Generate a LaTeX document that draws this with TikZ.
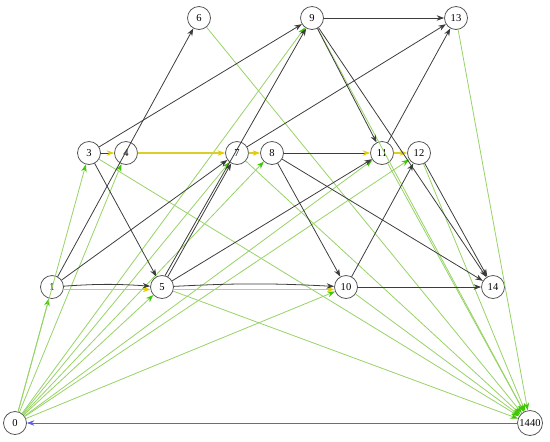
\documentclass[tikz,border=0pt]{standalone}
\usepackage{fontspec}
\setmainfont{Liberation Serif}
\usepackage{tikz}
\usetikzlibrary{arrows.meta}
\usepackage{xcolor}
\definecolor{nodeline}{RGB}{85,85,85}
\definecolor{depline}{RGB}{60,60,60}
\definecolor{srcline}{RGB}{150,210,100}
\definecolor{srctip}{RGB}{60,200,0}
\definecolor{critline}{RGB}{220,205,40}
\definecolor{crittip}{RGB}{230,205,0}
\definecolor{backline}{RGB}{95,95,225}

\begin{document}
\begin{tikzpicture}[>={Stealth[length=1.5mm,width=1.1mm]},font=\fontsize{6}{7}\selectfont,line cap=round,
  job/.style={circle,draw=nodeline,line width=0.45pt,minimum size=0.46cm,inner sep=0pt},
  dep/.style={->,draw=depline,line width=0.45pt},
  depcrit/.style={draw=depline,line width=0.45pt,-{Stealth[length=1.5mm,width=1.1mm,color=crittip]}},
  src/.style={draw=srcline,line width=0.45pt,-{Stealth[length=1.5mm,width=1.1mm,color=srctip]}},
  crit/.style={draw=critline,line width=0.6pt,-{Stealth[length=1.5mm,width=1.1mm,color=crittip]}},
  back/.style={->,draw=backline,line width=0.5pt,>={Stealth[length=1.5mm,width=1.1mm,color=backline]}}]
\useasboundingbox (0,0) rectangle (11,8.82);
\node[job] (n0) at (0.30,0.36) {0};
\node[job,minimum size=0.5cm] (n1440) at (10.60,0.36) {1440};
\node[job] (n1) at (1.04,3.08) {1};
\node[job] (n5) at (3.24,3.08) {5};
\node[job] (n10) at (6.92,3.08) {10};
\node[job] (n14) at (9.86,3.08) {14};
\node[job] (n3) at (1.78,5.76) {3};
\node[job] (n4) at (2.52,5.76) {4};
\node[job] (n7) at (4.74,5.76) {7};
\node[job] (n8) at (5.44,5.76) {8};
\node[job] (n11) at (7.64,5.76) {11};
\node[job] (n12) at (8.38,5.76) {12};
\node[job] (n6) at (3.98,8.46) {6};
\node[job] (n9) at (6.24,8.46) {9};
\node[job] (n13) at (9.12,8.46) {13};
% start and end edges
\foreach \t in {1,3,4,5,7,8,9,10,11,12}
  \draw[src] (n0) -- (n\t);
\foreach \s in {3,5,6,7,9,10,11,12,13}
  \draw[src] (n\s) -- (n1440);
% critical path
\draw[crit] (n1.-12) -- (n5.192);
\draw[crit] (n5.-12) -- (n10.192);
\draw[crit] (n4) -- (n7);
\draw[crit] (n7) -- (n8);
\draw[crit] (n11) -- (n12);
\draw[depcrit] (n3) -- (n4);
\draw[depcrit] (n8) -- (n11);
% precedences
\draw[dep] (n1) -- (n6);
\draw[dep] (n1) -- (n7);
\draw[dep] (n1) to[bend left=4] (n5);
\draw[dep] (n3) -- (n9);
\draw[dep] (n3) -- (n5);
\draw[dep] (n5) -- (n7);
\draw[dep] (n5.75) -- (n9);
\draw[dep] (n5) -- (n11);
\draw[dep] (n5) to[bend left=3] (n10);
\draw[dep] (n7) -- (n13);
\draw[dep] (n8) -- (n10);
\draw[dep] (n8) -- (n14);
\draw[dep] (n9) -- (n13);
\draw[dep] (n9) -- (n11);
\draw[dep] (n9) -- (n14);
\draw[dep] (n10) -- (n12);
\draw[dep] (n10) -- (n14);
\draw[dep] (n11) -- (n13);
\draw[dep] (n12) -- (n14);
\draw[back] (n1440) -- (n0);
\end{tikzpicture}
\end{document}
